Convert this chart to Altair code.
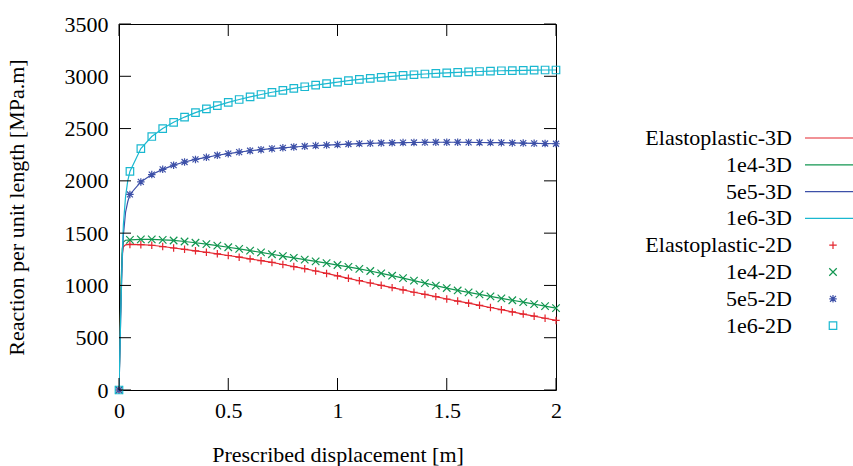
import altair as alt
import pandas as pd

# ---------------- data ----------------
x2d = [0.0, 0.05, 0.1, 0.15, 0.2, 0.25, 0.3, 0.35, 0.4, 0.45, 0.5, 0.55, 0.6, 0.65,
       0.7, 0.75, 0.8, 0.85, 0.9, 0.95, 1.0, 1.05, 1.1, 1.15, 1.2, 1.25, 1.3, 1.35,
       1.4, 1.45, 1.5, 1.55, 1.6, 1.65, 1.7, 1.75, 1.8, 1.85, 1.9, 1.95, 2.0]

elasto_2d = [0, 1392, 1390, 1384, 1372, 1358, 1345, 1331, 1317, 1302, 1286, 1270, 1254, 1237,
             1220, 1200, 1180, 1160, 1138, 1115, 1092, 1068, 1045, 1023, 1001, 979, 957, 935,
             914, 893, 870, 850, 830, 810, 789, 768, 747, 726, 706, 686, 665]
k1e4_2d = [0, 1435, 1440, 1440, 1436, 1430, 1420, 1408, 1395, 1380, 1365, 1350, 1333, 1316,
           1298, 1281, 1264, 1247, 1230, 1213, 1195, 1177, 1158, 1138, 1116, 1093, 1070, 1046,
           1022, 998, 975, 952, 933, 914, 895, 876, 858, 840, 821, 802, 783]
k5e5_2d = [0, 1870, 1990, 2060, 2110, 2150, 2180, 2205, 2225, 2245, 2260, 2275, 2288, 2298,
           2308, 2316, 2324, 2331, 2337, 2342, 2347, 2352, 2356, 2359, 2362, 2364, 2366, 2367,
           2368, 2369, 2369, 2369, 2368, 2367, 2366, 2365, 2363, 2361, 2359, 2357, 2355]
k1e6_2d = [0, 2090, 2309, 2424, 2500, 2560, 2610, 2652, 2688, 2720, 2750, 2778, 2803, 2826,
           2847, 2866, 2884, 2900, 2915, 2930, 2945, 2958, 2970, 2980, 2990, 3000, 3008, 3015,
           3022, 3028, 3033, 3038, 3042, 3046, 3050, 3053, 3055, 3057, 3059, 3060, 3060]

# early (steep) part of the 3D curves
x3d_early = [0.0, 0.005, 0.01, 0.015, 0.02, 0.03, 0.04]
elasto_3d_early = [0, 550, 1000, 1300, 1370, 1388, 1391]
k1e4_3d_early = [0, 570, 1050, 1350, 1415, 1432, 1434]
k5e5_3d_early = [0, 450, 900, 1250, 1480, 1700, 1800]
k1e6_3d_early = [0, 450, 900, 1300, 1580, 1850, 2000]

names_3d = ["Elastoplastic-3D", "1e4-3D", "5e5-3D", "1e6-3D"]
names_2d = ["Elastoplastic-2D", "1e4-2D", "5e5-2D", "1e6-2D"]
colors = ["#e4262f", "#129650", "#3d50a8", "#1ab8d0"]

y_tick_values = [0, 500, 1000, 1500, 2000, 2500, 3000, 3500]
x_tick_values = [0, 0.5, 1, 1.5, 2]

# ---------------- tables ----------------
rows3d = []
for name, early, full in zip(names_3d,
                             [elasto_3d_early, k1e4_3d_early, k5e5_3d_early, k1e6_3d_early],
                             [elasto_2d, k1e4_2d, k5e5_2d, k1e6_2d]):
    xs_ = x3d_early + x2d[1:]
    ys_ = early + full[1:]
    for i, (a, b) in enumerate(zip(xs_, ys_)):
        rows3d.append({"series": name, "x": a, "y": b, "i": i})
df3d = pd.DataFrame(rows3d)

rows2d = []
for name, full in zip(names_2d, [elasto_2d, k1e4_2d, k5e5_2d, k1e6_2d]):
    for a, b in zip(x2d, full):
        rows2d.append({"series": name, "x": a, "y": b})
df2d = pd.DataFrame(rows2d)

legend_df = pd.DataFrame({
    "name": names_3d + names_2d,
    "order": list(range(8)),
    "kind": ["line"] * 4 + ["point"] * 4,
})

W, H = 437, 366
FONT = "Liberation Serif, serif"
FS = 22

plus = "M-1,0L1,0M0,-1L0,1"
cross = "M-1,-1L1,1M-1,1L1,-1"
star = "M-1,0L1,0M0,-1L0,1M-0.8,-0.8L0.8,0.8M-0.8,0.8L0.8,-0.8"
square = "square"

color_scale = alt.Scale(domain=names_3d + names_2d, range=colors + colors)
shape_scale = alt.Scale(domain=names_2d, range=[plus, cross, star, square])

xs = alt.Scale(domain=[0, 2], nice=False)
ys = alt.Scale(domain=[0, 3500], nice=False)

x_axis = alt.Axis(values=x_tick_values, format="~g",
                  title="Prescribed displacement [m]", labelFlush=False,
                  labelPadding=10, titlePadding=23)
y_axis = alt.Axis(values=y_tick_values, format="d", labelFlush=False,
                  title="Reaction per unit length [MPa.m]",
                  labelPadding=11, titlePadding=36)

lines = alt.Chart(df3d).mark_line(strokeWidth=1.2, clip=True).encode(
    x=alt.X("x:Q", scale=xs, axis=x_axis),
    y=alt.Y("y:Q", scale=ys, axis=y_axis),
    color=alt.Color("series:N", scale=color_scale, legend=None),
    detail="series:N",
    order="i:Q",
)

points = alt.Chart(df2d).mark_point(filled=False, size=56, strokeWidth=1.2, opacity=1).encode(
    x=alt.X("x:Q", scale=xs, axis=x_axis),
    y=alt.Y("y:Q", scale=ys, axis=y_axis),
    color=alt.Color("series:N", scale=color_scale, legend=None),
    shape=alt.Shape("series:N", scale=shape_scale, legend=None),
)

yt = pd.DataFrame({"v": y_tick_values})
xt = pd.DataFrame({"v": x_tick_values})
TL = 12
tick_left = alt.Chart(yt).mark_rule(color="black", strokeWidth=1).encode(
    y=alt.Y("v:Q", scale=ys, axis=y_axis), x=alt.value(0), x2=alt.value(TL))
tick_right = alt.Chart(yt).mark_rule(color="black", strokeWidth=1).encode(
    y=alt.Y("v:Q", scale=ys, axis=y_axis), x=alt.value(W - TL), x2=alt.value(W))
tick_bottom = alt.Chart(xt).mark_rule(color="black", strokeWidth=1).encode(
    x=alt.X("v:Q", scale=xs, axis=x_axis), y=alt.value(H - TL), y2=alt.value(H))
tick_top = alt.Chart(xt).mark_rule(color="black", strokeWidth=1).encode(
    x=alt.X("v:Q", scale=xs, axis=x_axis), y=alt.value(0), y2=alt.value(TL))

main = alt.layer(lines, points, tick_left, tick_right, tick_bottom, tick_top)

ly = alt.Y("order:Q", scale=alt.Scale(domain=[0, 7], range=[114, 301.6]), axis=None)
leg_text = alt.Chart(legend_df).mark_text(
    align="right", baseline="middle", font=FONT, fontSize=FS, color="black"
).encode(x=alt.value(673), y=ly, text="name:N")
leg_lines = alt.Chart(legend_df).transform_filter(
    alt.datum.kind == "line"
).mark_rule(strokeWidth=1.2).encode(
    x=alt.value(686), x2=alt.value(734), y=ly,
    color=alt.Color("name:N", scale=color_scale, legend=None))
leg_points = alt.Chart(legend_df).transform_filter(
    alt.datum.kind == "point"
).mark_point(filled=False, size=56, strokeWidth=1.2, opacity=1).encode(
    x=alt.value(714), y=ly,
    color=alt.Color("name:N", scale=color_scale, legend=None),
    shape=alt.Shape("name:N", scale=shape_scale, legend=None))

legend = alt.layer(leg_text, leg_lines, leg_points)

chart = alt.layer(main, legend).resolve_scale(y="independent").properties(
    width=W, height=H,
    autosize=alt.AutoSizeParams(type="none"),
    padding={"left": 119, "top": 24, "right": 297, "bottom": 76},
).configure_view(
    stroke="black", strokeWidth=1
).configure_axis(
    labelFont=FONT, labelFontSize=FS, labelColor="black",
    titleFont=FONT, titleFontSize=FS, titleColor="black", titleFontWeight="normal",
    grid=False, ticks=False, domain=False,
)

chart.save("out.html", embed_options={"renderer": "svg", "actions": False})
